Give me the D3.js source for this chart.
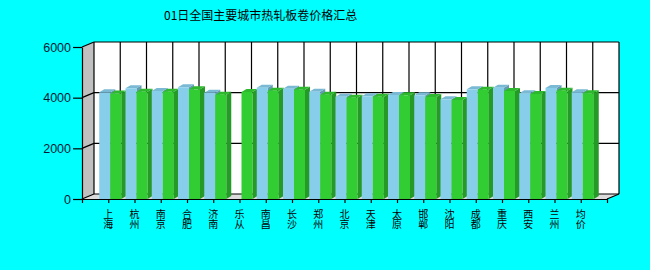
<!DOCTYPE html>
<html>
<head>
<meta charset="utf-8">
<script src="https://cdn.jsdelivr.net/npm/d3@7"></script>
<style>
  html, body { margin: 0; padding: 0; background: #00ffff; }
  svg { display: block; }
</style>
</head>
<body>
<div id="chart"></div>
<script>
// 数据
const title = "01日全国主要城市热轧板卷价格汇总";
const cities = ["上海", "杭州", "南京", "合肥", "济南", "乐从", "南昌", "长沙", "郑州", "北京",
                "天津", "太原", "邯郸", "沈阳", "成都", "重庆", "西安", "兰州", "均价"];
const seriesA = [4210, 4370, 4265, 4410, 4195, null, 4395, 4355, 4235, 4040,
                 4055, 4105, 4095, 3935, 4330, 4395, 4175, 4385, 4215];
const seriesB = [4160, 4235, 4235, 4330, 4120, 4225, 4275, 4315, 4120, 4000,
                 4040, 4095, 4025, 3910, 4315, 4265, 4145, 4275, 4175];
const yTicks = [0, 2000, 4000, 6000];

const width = 650, height = 270;
const plotLeft = 82, plotRight = 607, plotTop = 47, plotBottom = 199;
const depthX = 12, depthY = -5;     // 背景墙的纵深
const barDX = 5, barDY = -3;        // 柱子的纵深
const barW = 11;

const svg = d3.select("#chart").append("svg")
    .attr("width", width)
    .attr("height", height);

// 比例尺
const xi = d3.scaleLinear().domain([0, cities.length + 1]).range([plotLeft, plotRight]);
const y = d3.scaleLinear().domain([0, 6000]).range([plotBottom, plotTop]);

// 背景墙
svg.append("rect")
    .attr("x", plotLeft + depthX).attr("y", plotTop + depthY)
    .attr("width", plotRight - plotLeft).attr("height", plotBottom - plotTop)
    .attr("fill", "#ffffff");

// 左侧墙
svg.append("polygon")
    .attr("points", [[plotLeft, plotTop], [plotLeft + depthX, plotTop + depthY], [plotLeft + depthX, plotBottom + depthY], [plotLeft, plotBottom]].join(" "))
    .attr("fill", "#c0c0c0");

// 底面
svg.append("polygon")
    .attr("points", [[plotLeft, plotBottom], [plotLeft + depthX, plotBottom + depthY], [plotRight + depthX, plotBottom + depthY], [plotRight, plotBottom]].join(" "))
    .attr("fill", "#dcdcdc");

const grid = svg.append("g").attr("stroke", "#000").attr("stroke-width", 1.2).attr("fill", "none");

// 水平网格线 + 侧墙斜线
yTicks.forEach(t => {
    grid.append("line")
        .attr("x1", plotLeft + depthX).attr("x2", plotRight + depthX)
        .attr("y1", y(t) + depthY).attr("y2", y(t) + depthY);
    grid.append("line")
        .attr("x1", plotLeft).attr("x2", plotLeft + depthX)
        .attr("y1", y(t)).attr("y2", y(t) + depthY);
});

// 竖直网格线
d3.range(1, cities.length + 2).forEach(k => {
    grid.append("line")
        .attr("x1", xi(k) + depthX).attr("x2", xi(k) + depthX)
        .attr("y1", plotTop + depthY).attr("y2", plotBottom + depthY);
});
grid.append("line")
    .attr("x1", plotLeft + depthX).attr("x2", plotLeft + depthX)
    .attr("y1", plotTop + depthY).attr("y2", plotBottom + depthY);
grid.append("line")
    .attr("x1", plotRight).attr("x2", plotRight + depthX)
    .attr("y1", plotBottom).attr("y2", plotBottom + depthY);

// 柱子
const colors = ["#87ceeb", "#32cd32"];
function drawBar(g, x0, v, color) {
    if (v == null) return;
    const c = d3.color(color);
    const yt = y(v), yb = y(0);
    const x1 = x0 + barW;
    g.append("polygon")
        .attr("points", [[x1, yt], [x1 + barDX, yt + barDY], [x1 + barDX, yb + barDY], [x1, yb]].join(" "))
        .attr("fill", c.darker(0.8));
    g.append("polygon")
        .attr("points", [[x0, yt], [x0 + barDX, yt + barDY], [x1 + barDX, yt + barDY], [x1, yt]].join(" "))
        .attr("fill", c.darker(0.3));
    g.append("rect")
        .attr("x", x0).attr("y", yt)
        .attr("width", barW).attr("height", yb - yt)
        .attr("fill", color);
}

const bars = svg.append("g");
cities.forEach((name, i) => {
    const cx = xi(i + 1) + 2;
    const g = bars.append("g");
    drawBar(g, cx - barW, seriesA[i], colors[0]);
    drawBar(g, cx, seriesB[i], colors[1]);
});

// Y轴
const yAxis = svg.append("g")
    .attr("transform", `translate(${plotLeft},0)`)
    .call(d3.axisLeft(y).tickValues(yTicks).tickSize(9).tickSizeOuter(0).tickPadding(2).tickFormat(d3.format("d")));
yAxis.select(".domain").attr("stroke", "#000").attr("stroke-width", 1.2);
yAxis.selectAll(".tick line").attr("stroke", "#000").attr("stroke-width", 1.2);
yAxis.selectAll("text")
    .attr("font-family", "Arial, 'Liberation Sans', sans-serif")
    .attr("font-size", 12.5)
    .attr("fill", "#001a33");

// X轴
const xAxis = svg.append("g")
    .attr("transform", `translate(0,${plotBottom})`)
    .call(d3.axisBottom(xi).tickValues(d3.range(0, cities.length + 2)).tickSize(4).tickSizeOuter(0).tickFormat(""));
xAxis.select(".domain").attr("stroke", "#000").attr("stroke-width", 1.2);
xAxis.selectAll(".tick line").attr("stroke", "#000").attr("stroke-width", 1.2);

// 竖排城市名
const labels = svg.append("g")
    .attr("font-family", "'Noto Sans CJK SC', sans-serif")
    .attr("font-size", 10)
    .attr("fill", "#000")
    .style("writing-mode", "vertical-rl")
    .style("text-orientation", "upright")
    .style("letter-spacing", "0.5px");
labels.selectAll("text")
    .data(cities)
    .enter()
    .append("text")
    .attr("x", (d, i) => xi(i + 1))
    .attr("y", 209)
    .text(d => d);

// 标题
svg.append("text")
    .attr("x", 164)
    .attr("y", 20)
    .attr("font-family", "'Noto Sans CJK SC', sans-serif")
    .attr("font-size", 12)
    .attr("fill", "#000")
    .text(title);
</script>
</body>
</html>
